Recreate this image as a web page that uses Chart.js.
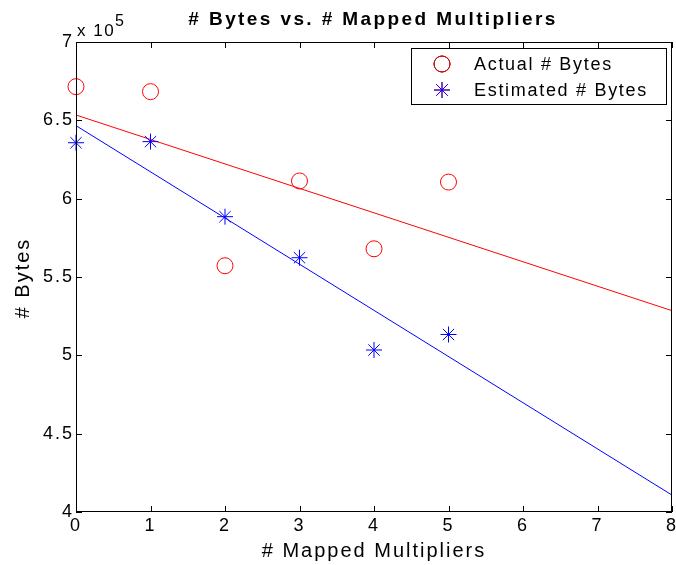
<!DOCTYPE html>
<html>
<head>
<meta charset="utf-8">
<script src="https://cdn.jsdelivr.net/npm/chart.js@4/dist/chart.umd.min.js"></script>
<style>
  html, body { margin: 0; padding: 0; background: #fff; }
  canvas { display: block; }
</style>
</head>
<body>
<canvas id="chart" width="676" height="565"></canvas>
<script>
// values
const multipliers = [0, 1, 2, 3, 4, 5];
const actualBytes = [671500, 668300, 557200, 611300, 568000, 610600];
const estimatedBytes = [635700, 636400, 588500, 562300, 503400, 513300];
// fitted lines, end points only
const fitX = [0, 8];
const actualFit = [653400, 528500];
const estimatedFit = [646600, 410800];
const xTicks = [0, 1, 2, 3, 4, 5, 6, 7, 8];
const yTicks = [400000, 450000, 500000, 550000, 600000, 650000, 700000];

const FONT = 'Arial, "Liberation Sans", sans-serif';

const toPts = (xs, ys) => xs.map((x, i) => ({ x: x, y: ys[i] }));

// matlab's text comes out wide, so space the letters a bit
const spacing = {
    id: 'spacing',
    beforeUpdate(chart) { chart.ctx.letterSpacing = '2px'; },
    beforeDraw(chart) { chart.ctx.letterSpacing = '2px'; }
};

// box, inward ticks, titles and legend drawn like matlab does
const matlabFrame = {
    id: 'matlabFrame',
    afterDraw(chart) {
        const ctx = chart.ctx;
        const a = chart.chartArea;
        const xs = chart.scales.x;
        const ys = chart.scales.y;
        ctx.save();
        ctx.strokeStyle = '#000';
        ctx.lineWidth = 1;
        ctx.strokeRect(a.left + 0.5, a.top + 0.5, a.right - a.left - 1, a.bottom - a.top - 1);
        ctx.beginPath();
        xTicks.forEach(v => {
            const px = Math.round(xs.getPixelForValue(v)) + 0.5;
            ctx.moveTo(px, a.bottom); ctx.lineTo(px, a.bottom - 6);
            ctx.moveTo(px, a.top); ctx.lineTo(px, a.top + 6);
        });
        yTicks.forEach(v => {
            const py = Math.round(ys.getPixelForValue(v)) + 0.5;
            ctx.moveTo(a.left, py); ctx.lineTo(a.left + 6, py);
            ctx.moveTo(a.right, py); ctx.lineTo(a.right - 6, py);
        });
        ctx.stroke();

        ctx.fillStyle = '#000';
        // title
        ctx.font = 'bold 19px ' + FONT;
        ctx.letterSpacing = '2.4px';
        ctx.textAlign = 'center';
        ctx.textBaseline = 'alphabetic';
        ctx.fillText('# Bytes vs. # Mapped Multipliers', 373, 25);
        // exponent
        ctx.letterSpacing = '1.5px';
        ctx.font = '17px ' + FONT;
        ctx.textAlign = 'left';
        ctx.fillText('x 10', 77, 36);
        ctx.font = '16px ' + FONT;
        ctx.fillText('5', 115, 26);
        // axis titles
        ctx.letterSpacing = '2px';
        ctx.font = '20px ' + FONT;
        ctx.textAlign = 'center';
        ctx.textBaseline = 'middle';
        ctx.fillText('# Mapped Multipliers', 374, 551);
        ctx.save();
        ctx.translate(23, (a.top + a.bottom) / 2 + 1);
        ctx.rotate(-Math.PI / 2);
        ctx.fillText('# Bytes', 0, 0);
        ctx.restore();

        // legend
        const lx = 411, ly = 48, lw = 255, lh = 56;
        ctx.fillStyle = '#fff';
        ctx.fillRect(lx, ly, lw, lh);
        ctx.strokeStyle = '#000';
        ctx.strokeRect(lx + 0.5, ly + 0.5, lw, lh);
        const items = [0, 1];
        items.forEach((di, i) => {
            const ds = chart.data.datasets[di];
            const cy = ly + 16 + i * 26;
            Chart.helpers.drawPoint(ctx, {
                pointStyle: ds.pointStyle,
                radius: ds.pointRadius,
                borderWidth: 1
            }, 442, cy);
            ctx.strokeStyle = ds.borderColor;
            ctx.lineWidth = 1;
            ctx.stroke();
            ctx.fillStyle = '#000';
            ctx.font = '18px ' + FONT;
            ctx.letterSpacing = '1.7px';
            ctx.textAlign = 'left';
            ctx.textBaseline = 'middle';
            ctx.fillText(ds.label, 474, cy + 1);
        });
        ctx.restore();
    }
};

new Chart(document.getElementById('chart'), {
    type: 'scatter',
    data: {
        datasets: [
            {
                label: 'Actual # Bytes',
                data: toPts(multipliers, actualBytes),
                pointStyle: 'circle',
                pointRadius: 8,
                borderColor: '#ff0000',
                backgroundColor: 'rgba(0,0,0,0)',
                borderWidth: 1,
                clip: false
            },
            {
                label: 'Estimated # Bytes',
                data: toPts(multipliers, estimatedBytes),
                pointStyle: 'star',
                pointRadius: 8,
                borderColor: '#0000ff',
                backgroundColor: '#0000ff',
                borderWidth: 1,
                clip: false
            },
            {
                label: 'actual fit',
                data: toPts(fitX, actualFit),
                showLine: true,
                pointRadius: 0,
                borderColor: '#ff0000',
                borderWidth: 1
            },
            {
                label: 'estimated fit',
                data: toPts(fitX, estimatedFit),
                showLine: true,
                pointRadius: 0,
                borderColor: '#0000ff',
                borderWidth: 1
            }
        ]
    },
    options: {
        responsive: false,
        animation: false,
        devicePixelRatio: 1,
        layout: { autoPadding: false, padding: { top: 42, right: 4, left: 0, bottom: 0 } },
        plugins: {
            legend: { display: false },
            title: { display: false },
            tooltip: { enabled: false }
        },
        scales: {
            x: {
                type: 'linear',
                min: 0,
                max: 8,
                grid: { display: false, drawTicks: false },
                border: { display: false },
                ticks: {
                    stepSize: 1,
                    color: '#000',
                    padding: 3,
                    maxRotation: 0,
                    font: { family: FONT, size: 18 }
                },
                afterFit: (scale) => {
                    scale.height = 53;
                    scale.paddingLeft = 0;
                    scale.paddingRight = 0;
                }
            },
            y: {
                min: 400000,
                max: 700000,
                grid: { display: false, drawTicks: false },
                border: { display: false },
                ticks: {
                    stepSize: 50000,
                    color: '#000',
                    padding: 2,
                    font: { family: FONT, size: 18 },
                    callback: (v) => String(v / 100000)
                },
                afterFit: (scale) => {
                    scale.width = 76;
                    scale.paddingTop = 0;
                    scale.paddingBottom = 0;
                }
            }
        }
    },
    plugins: [spacing, matlabFrame]
});
</script>
</body>
</html>
